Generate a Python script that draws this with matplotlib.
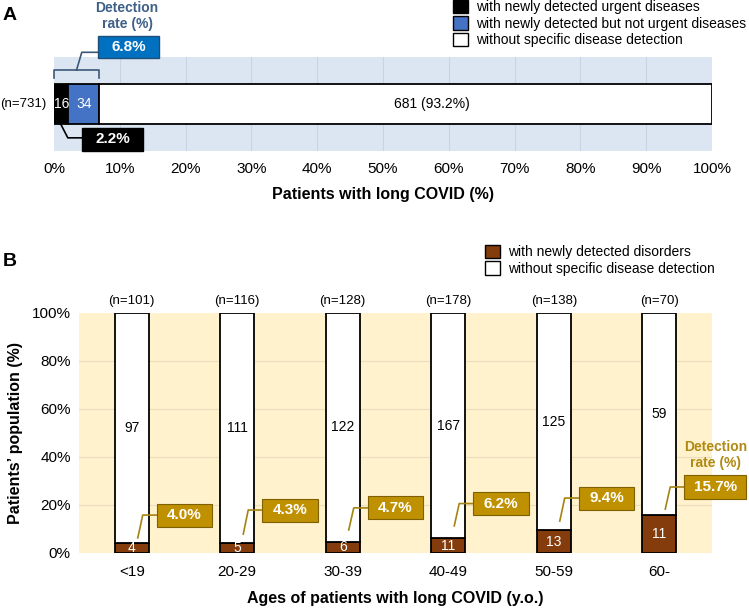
import matplotlib.pyplot as plt
import matplotlib.patches as patches
from matplotlib.ticker import PercentFormatter

plt.rcParams['font.family'] = ['Liberation Sans', 'DejaVu Sans']

# ---- panel A data ----
a_counts = [16, 34, 681]
a_total = 731
a_labels = ['with newly detected urgent diseases',
            'with newly detected but not urgent diseases',
            'without specific disease detection']
a_colors = ['#000000', '#4472C4', '#FFFFFF']
a_rate_all = 6.8
a_rate_urgent = 2.2

# ---- panel B data ----
ages = ['<19', '20-29', '30-39', '40-49', '50-59', '60-']
n_total = [101, 116, 128, 178, 138, 70]
detected = [4, 5, 6, 11, 13, 11]
not_detected = [97, 111, 122, 167, 125, 59]
rates = [4.0, 4.3, 4.7, 6.2, 9.4, 15.7]
b_labels = ['with newly detected disorders', 'without specific disease detection']

# callout placement for panel B (layout only)
box_y = [15.8, 17.9, 18.8, 20.6, 22.9, 27.5]
lead_y = [6.3, 7.9, 9.6, 11.3, 13.3, 18.3]

BROWN = '#843C0C'
GOLD = '#BF9000'
GOLD_EDGE = '#7F6000'

fig = plt.figure(figsize=(7.49, 6.10), dpi=100)

# ================= Panel A =================
axA = fig.add_axes([54/749, 1-151/610, 658/749, 94/610])
axA.set_facecolor('#DCE6F2')
axA.set_xlim(0, 100)
axA.set_ylim(-1, 1)
for s in axA.spines.values():
    s.set_visible(False)
axA.set_yticks([])
axA.set_xticks(range(0, 101, 10))
axA.xaxis.set_major_formatter(PercentFormatter(decimals=0))
axA.tick_params(axis='x', length=0, labelsize=11, pad=8)
for v in range(10, 100, 10):
    axA.axvline(v, color='#C8D4E2', lw=0.8, zorder=1)

left = 0
pcts = [c / a_total * 100 for c in a_counts]
handles = []
for cnt, pct, col, lab in zip(a_counts, pcts, a_colors, a_labels):
    axA.barh(0, pct, left=left, height=0.83, color=col, edgecolor='black',
             lw=1.3, zorder=3)
    handles.append(patches.Patch(facecolor=col, edgecolor='black', lw=1, label=lab))
    left += pct
axA.text(pcts[0]/2, 0, str(a_counts[0]), color='white', ha='center', va='center', fontsize=10, zorder=4)
axA.text(pcts[0] + pcts[1]/2, 0, str(a_counts[1]), color='white', ha='center', va='center', fontsize=10, zorder=4)
axA.text(57.4, 0, f'{a_counts[2]} ({pcts[2]:.1f}%)', color='black', ha='center', va='center', fontsize=10, zorder=4)
axA.text(-1.1, 0, f'(n={a_total})', ha='right', va='center', fontsize=9.5)
axA.set_xlabel('Patients with long COVID (%)', fontsize=11.5, fontweight='bold', labelpad=8)

# bracket over detected part
det_end = pcts[0] + pcts[1]
bc = '#3B5878'
axA.plot([0, 0, det_end, det_end], [0.55, 0.72, 0.72, 0.55], color=bc, lw=1.2, clip_on=False, zorder=5)
axA.plot([det_end/2, det_end/2 + 0.8, 6.7], [0.72, 1.1, 1.1], color=bc, lw=1.2, clip_on=False, zorder=5)
axA.add_patch(patches.Rectangle((6.7, 0.98), 9.3, 0.47, facecolor='#0070C0', edgecolor='#1F4E79',
                                lw=1, clip_on=False, zorder=6))
axA.text(6.7 + 9.3/2, 0.98 + 0.47/2, f'{a_rate_all}%', color='white', fontweight='bold',
         ha='center', va='center', fontsize=11, zorder=7, clip_on=False)
axA.text(11.1, 1.88, 'Detection\nrate (%)', color='#3E6089', fontweight='bold', ha='center',
         va='center', fontsize=10, linespacing=1.2, clip_on=False)

# urgent callout
axA.plot([pcts[0]/2 - 0.1, 2.1, 4.3], [-0.42, -0.72, -0.72], color='black', lw=1.2, zorder=5)
axA.add_patch(patches.Rectangle((4.3, -1.0), 9.2, 0.49, facecolor='black', edgecolor='black',
                                lw=1, clip_on=False, zorder=6))
axA.text(4.3 + 9.2/2, -0.755, f'{a_rate_urgent}%', color='white', fontweight='bold',
         ha='center', va='center', fontsize=11, zorder=7)

fig.legend(handles=handles, loc='upper left', bbox_to_anchor=(443/749, 1.016), frameon=False,
           fontsize=10, handlelength=1.1, handleheight=1.1, handletextpad=0.55,
           labelspacing=0.15, borderpad=0.2)
fig.text(0.004, 1-15/610, 'A', fontsize=14, fontweight='bold', va='center')

# ================= Panel B =================
axB = fig.add_axes([79/749, 1-553/610, 633/749, 240/610])
axB.set_facecolor('#FFF2CC')
axB.set_xlim(-0.5, 5.5)
axB.set_ylim(0, 100)
for s in axB.spines.values():
    s.set_visible(False)
for v in (20, 40, 60, 80):
    axB.axhline(v, color='#EADFC0', lw=0.9, zorder=1)
axB.set_yticks(range(0, 101, 20))
axB.yaxis.set_major_formatter(PercentFormatter(decimals=0))
axB.set_xticks(range(len(ages)))
axB.set_xticklabels(ages)
axB.tick_params(axis='both', length=0, labelsize=11)
axB.tick_params(axis='x', pad=9)
axB.tick_params(axis='y', pad=6)

det_pct = [d / n * 100 for d, n in zip(detected, n_total)]
und_pct = [u / n * 100 for u, n in zip(not_detected, n_total)]
xs = list(range(len(ages)))
axB.bar(xs, det_pct, width=0.32, color=BROWN, edgecolor='black', lw=1.3, zorder=3)
axB.bar(xs, und_pct, bottom=det_pct, width=0.32, color='white', edgecolor='black', lw=1.3, zorder=3)

for i in xs:
    axB.text(i, det_pct[i]/2, str(detected[i]), color='white', ha='center', va='center',
             fontsize=10, zorder=4)
    axB.text(i, det_pct[i] + und_pct[i]/2, str(not_detected[i]), color='black', ha='center',
             va='center', fontsize=10, zorder=4)
    axB.text(i, 102.5, f'(n={n_total[i]})', ha='center', va='bottom', fontsize=9.5, clip_on=False)
    # callout
    lab = f'{rates[i]:.1f}%'
    w = 0.59 if len(lab) > 4 else 0.53
    bx = i + 0.235
    axB.plot([i + 0.057, i + 0.104, bx], [lead_y[i], box_y[i], box_y[i]], color='#A58312',
             lw=1.2, zorder=5)
    axB.add_patch(patches.Rectangle((bx, box_y[i] - 4.8), w, 9.6, facecolor=GOLD,
                                    edgecolor=GOLD_EDGE, lw=0.8, zorder=6, clip_on=False))
    axB.text(bx + w/2, box_y[i], lab, color='white', fontweight='bold', ha='center',
             va='center', fontsize=11, zorder=7, clip_on=False)

axB.text(5.535, 40.8, 'Detection\nrate (%)', color='#B08A12', fontweight='bold', ha='center',
         va='center', fontsize=10, linespacing=1.2, clip_on=False)

axB.set_ylabel('Patients\u2019 population (%)', fontsize=11.5, fontweight='bold', labelpad=6)
axB.set_xlabel('Ages of patients with long COVID (y.o.)', fontsize=11.5, fontweight='bold', labelpad=8)

b_handles = [patches.Patch(facecolor=BROWN, edgecolor='black', lw=1, label=b_labels[0]),
             patches.Patch(facecolor='white', edgecolor='black', lw=1, label=b_labels[1])]
fig.legend(handles=b_handles, loc='upper left', bbox_to_anchor=(475/749, 1-235/610), frameon=False,
           fontsize=10, handlelength=1.1, handleheight=1.1, handletextpad=0.55,
           labelspacing=0.15, borderpad=0.2)
fig.text(0.004, 1-262/610, 'B', fontsize=14, fontweight='bold', va='center')

fig.savefig('out.png', dpi=100)
